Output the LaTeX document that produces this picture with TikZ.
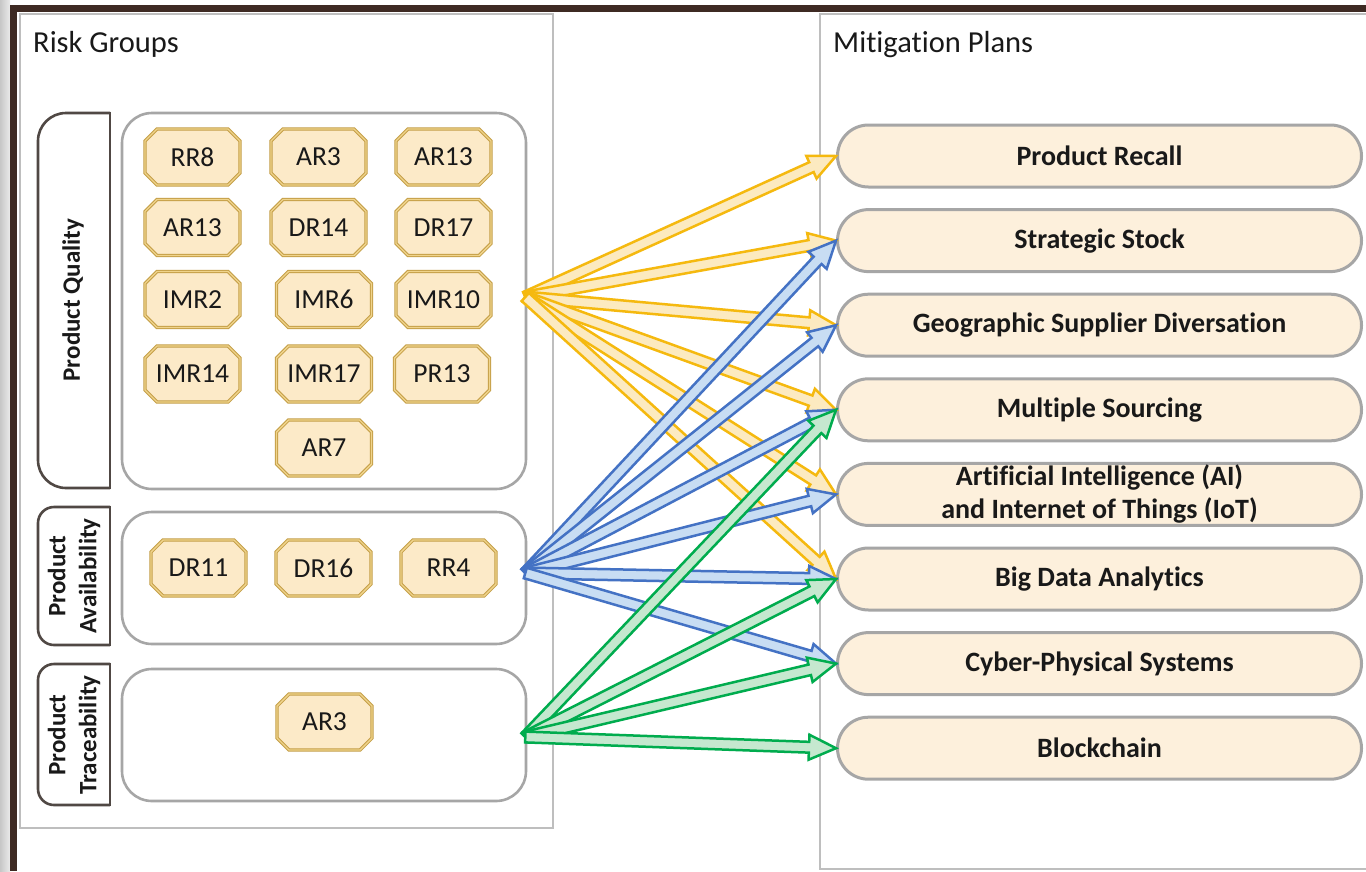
\documentclass[tikz,border=0pt]{standalone}
\usepackage{fontspec}
\setmainfont{Carlito}[Ligatures={NoCommon}]
\usetikzlibrary{calc,shapes.misc}

\definecolor{framebrown}{RGB}{62,42,35}
\definecolor{panelgray}{RGB}{190,190,190}
\definecolor{boxgray}{RGB}{166,166,166}
\definecolor{tabgray}{RGB}{80,72,68}
\definecolor{itemfill}{RGB}{252,234,200}
\definecolor{itemedge}{RGB}{196,158,70}
\definecolor{itemin}{RGB}{240,212,140}
\definecolor{planfill}{RGB}{253,240,220}
\definecolor{yline}{RGB}{245,185,15}
\definecolor{yfill}{RGB}{252,234,192}
\definecolor{bline}{RGB}{68,114,196}
\definecolor{bfill}{RGB}{200,221,243}
\definecolor{gline}{RGB}{0,172,78}
\definecolor{gfill}{RGB}{197,232,207}
\definecolor{ink}{RGB}{25,25,25}

\tikzset{
  panel/.style={draw=panelgray, line width=1.2pt, fill=white},
  paneltitle/.style={anchor=base west, inner sep=0pt, text=ink,
    font=\fontsize{30.5}{36}\selectfont},
  grpbox/.style={draw=boxgray, line width=2.6pt, rounded corners=30pt,
    inner sep=0pt},
  tabline/.style={draw=tabgray, line width=2.6pt},
  tabtext/.style={rotate=90, align=center, text=ink, inner sep=0pt,
    font=\bfseries\fontsize{25}{31}\selectfont},
  riskitem/.style={chamfered rectangle, chamfered rectangle xsep=6pt,
    chamfered rectangle ysep=6pt, minimum width=95pt, minimum height=56pt,
    inner sep=0pt, fill=itemfill, draw=itemedge, double=itemin,
    double distance=1.4pt, line width=1pt, text=ink,
    font=\fontsize{27.5}{32}\selectfont},
  plan/.style={rectangle, rounded corners=31pt, minimum width=524pt,
    minimum height=62pt, inner sep=0pt, fill=planfill, draw=boxgray,
    line width=3pt, align=center, text=ink,
    font=\bfseries\fontsize{28}{33}\selectfont},
  fatarrowline/.style={line width=2.5pt, line join=miter},
  yarrow/.style={fatarrowline, draw=yline, fill=yfill},
  barrow/.style={fatarrowline, draw=bline, fill=bfill},
  garrow/.style={fatarrowline, draw=gline, fill=gfill},
}

% shaft half width, head half width, head length
\def\arrw{5.4pt}
\def\arrhw{12.5pt}
\def\arrhl{27pt}

% a hollow block arrow from #2 to #3 drawn with style #1
\newcommand\riskarrow[3]{%
  \path (#2) coordinate (fa-s) (#3) coordinate (fa-e);
  \path ($(fa-e)!\arrhl!(fa-s)$) coordinate (fa-h);
  \draw[#1] ($(fa-s)!\arrw!90:(fa-e)$)
    -- ($(fa-h)!\arrw!-90:(fa-s)$)
    -- ($(fa-h)!\arrhw!-90:(fa-s)$)
    -- (fa-e)
    -- ($(fa-h)!\arrhw!90:(fa-s)$)
    -- ($(fa-h)!\arrw!90:(fa-s)$)
    -- ($(fa-s)!\arrw!-90:(fa-e)$) -- cycle;}

% group label tab, rounded on its left side only
\newcommand\grouptab[5]{% x1, y1, x2, y2, radius
  \draw[tabline, rounded corners=#5] (#3,#2) -- (#1,#2) -- (#1,#4) -- (#3,#4);
  \draw[tabline, line cap=rect] (#3,#2) -- (#3,#4);}

\begin{document}
\begin{tikzpicture}[x=1pt, y=-1pt]
\useasboundingbox (0,0) rectangle (1366,871);
\clip (0,0) rectangle (1366,871);

% page frame
\fill[white] (0,0) rectangle (1366,871);
\shade[left color=black!22, right color=black!8] (0,0) rectangle (10,871);
\fill[framebrown] (10,5) rectangle (1366,12);
\fill[framebrown] (10,5) rectangle (17,871);

% the two panels
\draw[panel] (20,14) rectangle (553,828);
\node[paneltitle] (rgtitle) at (33,52) {Risk Groups};
\draw[panel] (820,14) rectangle (1380,869);
\node[paneltitle] (mptitle) at (833,52) {Mitigation Plans};

% group tabs
\grouptab{38}{113}{110}{488}{28pt}
\node[tabtext] (tq) at (73,300) {Product Quality};
\grouptab{38}{507}{110}{645}{16pt}
\node[tabtext] (ta) at (74,576) {Product\\Availability};
\grouptab{38}{664}{110}{805}{16pt}
\node[tabtext] (tt) at (74,735) {Product\\Traceability};

% group containers
\node[grpbox, minimum width=404pt, minimum height=376pt] (qual) at (324,301) {};
\node[grpbox, minimum width=404pt, minimum height=132pt] (avail) at (324,578) {};
\node[grpbox, minimum width=404pt, minimum height=132pt] (trace) at (324,735) {};

% risks: product quality
\node[riskitem] (q11) at (192.5,157) {RR8};
\node[riskitem] (q12) at (318.5,157) {AR3};
\node[riskitem] (q13) at (443.5,157) {AR13};
\node[riskitem] (q21) at (192.5,227.5) {AR13};
\node[riskitem] (q22) at (318.5,227.5) {DR14};
\node[riskitem] (q23) at (443.5,227.5) {DR17};
\node[riskitem] (q31) at (192.5,299.5) {IMR2};
\node[riskitem] (q32) at (324,299.5) {IMR6};
\node[riskitem] (q33) at (443.5,299.5) {IMR10};
\node[riskitem] (q41) at (192.5,374) {IMR14};
\node[riskitem] (q42) at (324,374) {IMR17};
\node[riskitem] (q43) at (442,374) {PR13};
\node[riskitem] (q52) at (324,448) {AR7};
% risks: product availability
\node[riskitem] (a1) at (198.5,568) {DR11};
\node[riskitem] (a2) at (323.5,568) {DR16};
\node[riskitem] (a3) at (448.5,568) {RR4};
% risks: product traceability
\node[riskitem] (t1) at (324.5,722) {AR3};

% mitigation plans
\node[plan] (pr)  at (1099.5,156)   {Product Recall};
\node[plan] (ss)  at (1099.5,240.6) {Strategic Stock};
\node[plan] (gsd) at (1099.5,325.2) {Geographic Supplier Diversation};
\node[plan] (ms)  at (1099.5,409.8) {Multiple Sourcing};
\node[plan] (ai)  at (1099.5,494.4) {Artificial Intelligence (AI)\\and Internet of Things (IoT)};
\node[plan] (bda) at (1099.5,579)   {Big Data Analytics};
\node[plan] (cps) at (1099.5,663.6) {Cyber-Physical Systems};
\node[plan] (bc)  at (1099.5,748.2) {Blockchain};

% arrow origins on the group containers
\coordinate (qsrc) at ($(qual.east)+(-2,-4)$);
\coordinate (asrc) at ($(avail.east)+(-2,-5)$);
\coordinate (tsrc) at ($(trace.east)+(-2,2)$);

% product quality
\foreach \t in {pr,ss,gsd,ms,ai,bda}{\riskarrow{yarrow}{qsrc}{\t.west}}
% product availability
\foreach \t in {ss,gsd,ms,ai,bda,cps}{\riskarrow{barrow}{asrc}{\t.west}}
% product traceability
\foreach \t in {ms,bda,cps,bc}{\riskarrow{garrow}{tsrc}{\t.west}}
\end{tikzpicture}
\end{document}
